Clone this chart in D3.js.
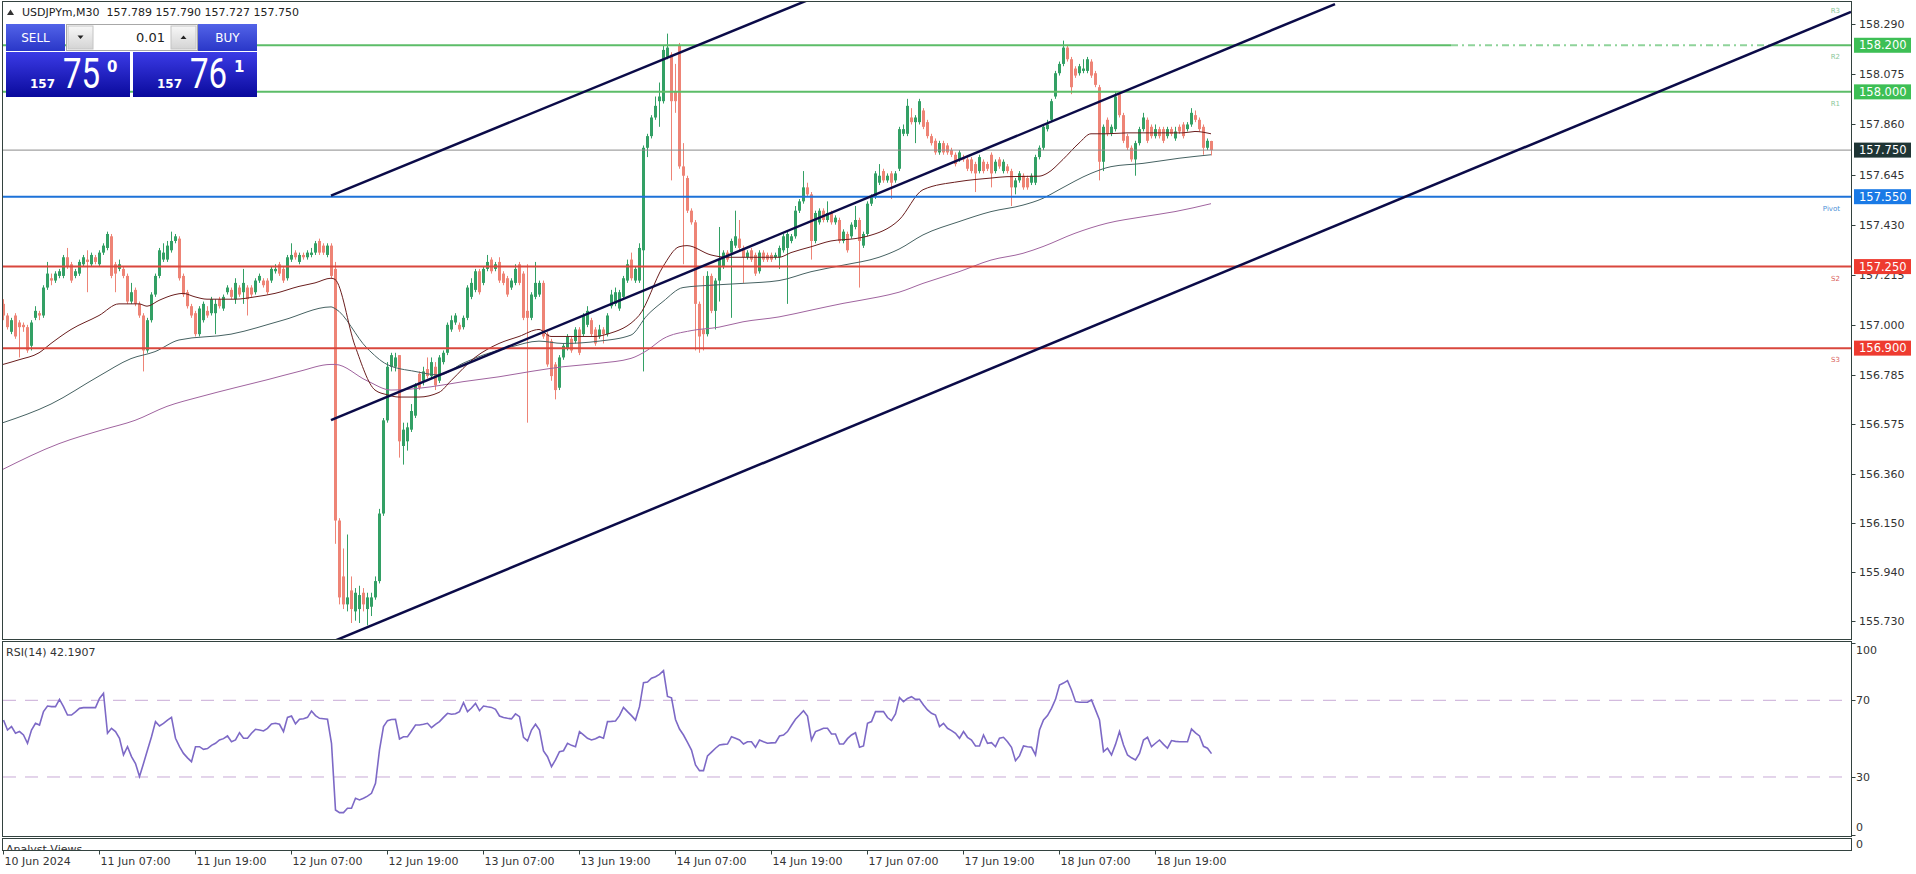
<!DOCTYPE html>
<html><head><meta charset="utf-8">
<script src="https://cdn.jsdelivr.net/npm/d3@7/dist/d3.min.js"></script>
<style>
html,body{margin:0;padding:0;background:#fff;overflow:hidden;}
svg{display:block;font-family:"DejaVu Sans",sans-serif;}
</style></head><body>
<svg id="chart" width="1916" height="874"></svg>
<script>
// ---------------- DATA ----------------
const opens=[
157.09,157.04,156.97,157.04,157.01,157.00,156.99,156.91,157.03,157.05,
157.04,157.16,157.20,157.19,157.21,157.21,157.29,157.26,157.21,157.22,
157.26,157.28,157.26,157.29,157.26,157.31,157.33,157.38,157.26,157.24,
157.24,157.21,157.10,157.15,157.09,157.04,156.89,157.02,157.13,157.21,
157.28,157.28,157.32,157.36,157.37,157.21,157.14,157.08,157.05,156.96,
157.02,157.06,157.05,157.05,157.11,157.07,157.14,157.15,157.11,157.16,
157.14,157.16,157.16,157.14,157.19,157.19,157.19,157.19,157.23,157.26,
157.24,157.20,157.28,157.31,157.27,157.30,157.29,157.30,157.31,157.36,
157.34,157.30,157.34,157.24,156.16,155.92,155.80,155.86,155.77,155.78,
155.85,155.78,155.79,155.83,155.90,156.19,156.59,156.82,156.82,156.87,
156.48,156.50,156.55,156.61,156.79,156.76,156.81,156.78,156.82,156.76,
156.84,156.88,156.98,157.01,157.00,156.99,157.03,157.12,157.15,157.23,
157.18,157.24,157.28,157.24,157.27,157.22,157.20,157.16,157.18,157.26,
157.22,157.06,157.03,157.12,157.13,157.18,156.96,156.93,156.83,156.73,
156.86,156.90,156.94,156.93,156.98,156.96,157.00,157.02,156.98,156.95,
156.98,156.96,157.08,157.09,157.07,157.12,157.19,157.28,157.19,157.19,
157.32,157.76,157.81,157.89,157.96,157.96,158.15,158.16,158.00,158.20,
157.68,157.63,157.49,157.44,157.09,156.98,156.96,157.21,157.06,157.19,
157.25,157.31,157.31,157.34,157.37,157.33,157.29,157.32,157.30,157.23,
157.31,157.30,157.30,157.29,157.29,157.32,157.33,157.36,157.38,157.49,
157.53,157.59,157.56,157.36,157.44,157.49,157.45,157.48,157.44,157.45,
157.36,157.39,157.38,157.42,157.45,157.34,157.39,157.52,157.55,157.61,
157.66,157.62,157.65,157.62,157.67,157.82,157.82,157.89,157.87,157.87,
157.92,157.87,157.81,157.79,157.74,157.78,157.77,157.75,157.73,157.71,
157.72,157.71,157.71,157.69,157.66,157.70,157.69,157.73,157.66,157.71,
157.66,157.68,157.66,157.59,157.62,157.64,157.63,157.61,157.61,157.72,
157.76,157.84,157.88,157.98,158.08,158.12,158.19,158.14,158.10,158.08,
158.09,158.09,158.13,158.08,158.02,157.70,157.88,157.82,157.84,157.99,
157.90,157.81,157.76,157.71,157.78,157.84,157.88,157.85,157.81,157.84,
157.84,157.81,157.84,157.80,157.85,157.86,157.84,157.86,157.90,157.88,
157.85,157.76,157.789];
const highs=[
157.11,157.05,157.03,157.05,157.02,157.01,157.00,157.02,157.08,157.06,
157.17,157.27,157.22,157.23,157.24,157.30,157.33,157.27,157.24,157.28,
157.30,157.32,157.31,157.30,157.32,157.35,157.40,157.39,157.27,157.28,
157.25,157.22,157.18,157.16,157.10,157.05,157.03,157.14,157.22,157.33,
157.35,157.36,157.40,157.39,157.38,157.22,157.15,157.09,157.06,157.08,
157.10,157.08,157.12,157.11,157.12,157.13,157.17,157.16,157.20,157.17,
157.24,157.17,157.17,157.20,157.22,157.20,157.20,157.25,157.26,157.27,
157.25,157.30,157.35,157.32,157.31,157.31,157.32,157.33,157.36,157.37,
157.35,157.35,157.35,157.27,156.17,156.04,156.10,155.92,155.87,155.88,
155.87,155.85,155.85,155.92,156.21,156.60,156.84,156.88,156.88,156.87,
156.58,156.58,156.66,156.75,156.80,156.82,156.86,156.86,156.84,156.87,
156.89,157.01,157.04,157.05,157.01,157.04,157.17,157.20,157.24,157.24,
157.25,157.30,157.29,157.27,157.29,157.23,157.21,157.20,157.26,157.27,
157.23,157.26,157.14,157.27,157.19,157.19,156.97,156.94,156.84,156.87,
156.92,156.96,156.95,156.99,156.99,157.05,157.08,157.03,156.99,157.00,
156.99,157.05,157.15,157.16,157.15,157.21,157.28,157.31,157.25,157.35,
157.77,157.82,157.90,157.98,158.04,158.20,158.25,158.17,158.12,158.21,
157.78,157.64,157.50,157.45,157.10,157.21,157.23,157.22,157.20,157.42,
157.32,157.32,157.37,157.49,157.45,157.34,157.32,157.33,157.31,157.32,
157.32,157.31,157.31,157.31,157.34,157.39,157.40,157.39,157.51,157.54,
157.66,157.61,157.57,157.49,157.50,157.50,157.53,157.49,157.47,157.46,
157.41,157.40,157.44,157.51,157.46,157.40,157.53,157.56,157.66,157.69,
157.67,157.65,157.66,157.66,157.85,157.86,157.97,157.93,157.90,157.97,
157.93,157.88,157.82,157.80,157.79,157.79,157.78,157.76,157.74,157.75,
157.73,157.72,157.72,157.70,157.73,157.71,157.70,157.74,157.71,157.72,
157.71,157.69,157.67,157.63,157.66,157.65,157.64,157.65,157.73,157.77,
157.86,157.88,157.97,158.09,158.13,158.22,158.20,158.15,158.11,158.12,
158.14,158.15,158.14,158.09,158.03,157.86,157.89,157.86,158.00,158.00,
157.91,157.82,157.77,157.79,157.85,157.91,157.89,157.86,157.86,157.85,
157.85,157.85,157.85,157.85,157.86,157.87,157.87,157.93,157.92,157.89,
157.86,157.80,157.790];
const lows=[
157.02,156.98,156.96,156.94,156.86,156.97,156.88,156.89,157.02,157.02,
157.03,157.15,157.17,157.18,157.20,157.20,157.24,157.18,157.20,157.21,
157.25,157.14,157.25,157.26,157.25,157.30,157.32,157.20,157.14,157.23,
157.20,157.09,157.09,157.08,157.03,156.80,156.88,157.01,157.12,157.20,
157.27,157.27,157.31,157.35,157.19,157.12,157.07,157.03,156.95,156.95,
157.01,157.03,157.04,156.96,157.07,157.06,157.13,157.11,157.09,157.12,
157.09,157.04,157.12,157.13,157.18,157.16,157.13,157.18,157.22,157.21,
157.18,157.19,157.27,157.28,157.26,157.28,157.28,157.29,157.30,157.30,
157.30,157.29,157.20,156.06,155.80,155.78,155.77,155.72,155.73,155.72,
155.77,155.71,155.75,155.82,155.89,156.18,156.58,156.80,156.80,156.43,
156.40,156.46,156.54,156.60,156.72,156.74,156.77,156.77,156.72,156.75,
156.83,156.87,156.97,157.00,156.97,156.98,157.02,157.11,157.14,157.13,
157.17,157.23,157.22,157.23,157.18,157.17,157.12,157.15,157.17,157.17,
157.02,156.58,157.02,157.11,157.12,156.94,156.82,156.76,156.68,156.72,
156.85,156.89,156.88,156.92,156.87,156.95,156.99,156.95,156.91,156.94,
156.92,156.95,157.07,157.08,157.06,157.11,157.18,157.19,157.18,157.18,
156.80,157.72,157.80,157.88,157.85,157.95,158.14,157.62,157.91,157.67,
157.26,157.48,157.43,156.89,156.88,156.89,156.95,157.05,156.98,157.10,
157.24,157.27,157.03,157.33,157.32,157.18,157.28,157.27,157.21,157.22,
157.27,157.27,157.27,157.28,157.24,157.31,157.09,157.35,157.37,157.48,
157.52,157.55,157.28,157.35,157.43,157.44,157.44,157.43,157.43,157.35,
157.35,157.31,157.37,157.41,157.16,157.33,157.38,157.51,157.54,157.60,
157.61,157.61,157.54,157.61,157.66,157.81,157.81,157.86,157.78,157.86,
157.84,157.80,157.77,157.73,157.73,157.73,157.73,157.72,157.68,157.70,
157.70,157.66,157.65,157.57,157.65,157.65,157.66,157.59,157.65,157.67,
157.65,157.65,157.51,157.56,157.61,157.58,157.58,157.60,157.60,157.71,
157.75,157.83,157.87,157.97,158.07,158.11,158.13,157.99,158.06,158.07,
158.08,158.08,158.06,158.02,157.62,157.66,157.81,157.81,157.83,157.89,
157.78,157.75,157.70,157.64,157.77,157.83,157.78,157.80,157.80,157.80,
157.78,157.80,157.81,157.79,157.82,157.80,157.83,157.85,157.87,157.83,
157.73,157.75,157.727];
const closes=[
157.04,156.99,157.02,156.95,156.99,156.99,156.89,157.01,157.06,157.04,
157.16,157.22,157.19,157.22,157.23,157.29,157.25,157.19,157.23,157.27,
157.29,157.27,157.30,157.27,157.31,157.34,157.39,157.21,157.22,157.26,
157.21,157.10,157.14,157.09,157.04,156.89,157.02,157.13,157.21,157.32,
157.31,157.34,157.36,157.38,157.20,157.13,157.08,157.04,156.96,157.07,
157.09,157.04,157.11,157.09,157.08,157.12,157.16,157.12,157.18,157.13,
157.18,157.11,157.13,157.19,157.21,157.17,157.14,157.24,157.24,157.22,
157.19,157.29,157.30,157.29,157.30,157.29,157.31,157.31,157.35,157.31,
157.31,157.34,157.21,156.16,155.83,155.80,155.83,155.78,155.85,155.84,
155.80,155.83,155.83,155.90,156.19,156.59,156.82,156.87,156.86,156.50,
156.55,156.56,156.63,156.74,156.73,156.80,156.78,156.84,156.74,156.86,
156.88,157.00,157.02,157.04,156.98,157.03,157.16,157.18,157.23,157.14,
157.24,157.27,157.23,157.26,157.19,157.18,157.13,157.19,157.24,157.18,
157.03,157.03,157.13,157.18,157.18,156.95,156.83,156.78,156.72,156.86,
156.91,156.95,156.89,156.98,156.88,157.04,157.06,156.96,156.92,156.98,
156.96,157.04,157.13,157.14,157.14,157.20,157.26,157.20,157.24,157.33,
157.76,157.81,157.89,157.94,157.98,158.18,158.19,157.96,157.96,157.68,
157.64,157.49,157.44,157.09,156.95,156.96,157.21,157.06,157.19,157.28,
157.31,157.28,157.36,157.38,157.33,157.29,157.31,157.28,157.22,157.31,
157.28,157.28,157.28,157.30,157.33,157.38,157.39,157.38,157.49,157.53,
157.59,157.56,157.36,157.48,157.49,157.45,157.48,157.44,157.46,157.36,
157.40,157.32,157.43,157.45,157.36,157.39,157.52,157.55,157.65,157.64,
157.62,157.64,157.61,157.65,157.84,157.84,157.94,157.87,157.89,157.96,
157.85,157.81,157.78,157.74,157.78,157.74,157.74,157.73,157.69,157.74,
157.71,157.67,157.66,157.65,157.72,157.66,157.67,157.65,157.70,157.68,
157.70,157.66,157.59,157.62,157.65,157.59,157.59,157.64,157.72,157.76,
157.85,157.86,157.96,158.08,158.12,158.19,158.14,158.02,158.07,158.11,
158.10,158.14,158.07,158.03,157.70,157.85,157.82,157.85,157.98,157.90,
157.79,157.76,157.71,157.78,157.84,157.89,157.79,157.81,157.84,157.81,
157.79,157.84,157.82,157.83,157.83,157.81,157.86,157.91,157.88,157.84,
157.76,157.79,157.750];

// moving averages (bar index, value)
const maFastBars=[0,4,9,12,17,24,29,34,36,39,43,45,48,51,58,63,68,74,78,82,83,88,93,96,99,104,109,112,118,124,129,134,137,140,148,151,159,165,169,171,177,181,194,197,202,207,213,216,224,230,239,247,251,259,261,265,269,272,276,281,295,298,302];
const maFastVals=[156.83,156.85,156.88,156.92,156.98,157.04,157.09,157.09,157.08,157.105,157.13,157.135,157.12,157.11,157.11,157.12,157.135,157.165,157.18,157.20,157.195,156.91,156.72,156.70,156.69,156.69,156.71,156.76,156.86,156.92,156.95,156.98,156.95,156.95,156.95,156.96,157.04,157.25,157.335,157.34,157.30,157.29,157.29,157.31,157.335,157.36,157.37,157.38,157.45,157.58,157.615,157.63,157.636,157.638,157.65,157.71,157.78,157.82,157.82,157.824,157.824,157.83,157.82];
const maMidBars=[0,12,24,32,38,44,57,70,82,83,91,96,103,109,115,120,127,134,140,149,157,161,165,170,177,185,194,202,210,219,224,230,239,247,255,260,264,272,277,285,294,302];
const maMidVals=[156.58,156.66,156.78,156.855,156.885,156.935,156.96,157.02,157.077,157.07,156.90,156.83,156.80,156.785,156.835,156.87,156.905,156.93,156.92,156.93,156.956,157.04,157.10,157.16,157.17,157.178,157.19,157.228,157.256,157.29,157.325,157.386,157.443,157.486,157.514,157.543,157.58,157.65,157.679,157.693,157.715,157.73];
const maSlowBars=[0,14,25,33,41,49,58,66,74,82,83,91,97,107,115,124,132,140,149,157,161,165,172,179,185,194,202,210,219,224,230,239,247,255,260,268,276,285,293,302];
const maSlowVals=[156.38,156.49,156.55,156.59,156.65,156.69,156.73,156.764,156.80,156.83,156.83,156.76,156.72,156.734,156.756,156.777,156.80,156.82,156.835,156.856,156.89,156.94,156.975,156.99,157.013,157.034,157.063,157.092,157.12,157.14,157.178,157.228,157.278,157.307,157.336,157.393,157.436,157.464,157.486,157.52];

// RSI(14), one value per bar
const rsiValues=[
59.7,54.5,56.3,52.8,53.7,51.9,47.6,54.5,58.0,57.1,
64.1,67.0,66.7,66.7,70.5,66.7,62.3,62.3,64.0,65.8,
66.2,66.2,66.2,66.2,71.0,73.7,52.8,55.4,53.7,50.2,
41.5,45.8,40.6,37.0,30.2,37.0,44.1,51.0,58.9,56.6,
58.0,59.7,61.1,50.2,45.8,42.3,40.0,38.0,45.8,45.8,
44.4,44.8,46.5,47.6,49.3,50.0,51.4,48.4,49.3,53.1,
50.2,50.2,52.8,54.9,54.5,54.0,55.4,57.7,58.0,57.5,
53.7,61.1,61.8,57.7,60.1,60.4,61.1,64.4,62.0,60.6,
60.4,60.1,47.6,12.8,11.4,11.4,13.7,13.7,18.9,18.0,
18.9,20.0,21.5,26.7,44.1,56.3,59.4,60.0,60.1,49.8,
51.0,51.0,54.0,57.1,57.1,57.5,58.0,55.7,57.5,58.9,
61.1,63.2,62.7,63.0,64.1,68.8,64.1,66.0,68.4,64.6,
67.0,66.6,66.3,65.3,61.8,61.0,60.6,60.3,62.9,61.5,
50.7,48.8,54.5,57.5,54.5,43.6,40.6,35.4,38.9,43.2,
43.7,47.6,46.5,45.8,53.7,52.0,50.2,49.3,50.0,51.0,
50.2,58.9,59.0,59.2,62.0,66.3,64.1,62.0,59.7,66.7,
79.2,79.5,81.5,82.3,83.5,85.5,72.0,71.3,60.0,55.0,
51.9,48.0,44.0,36.3,33.3,33.3,41.0,43.0,45.0,46.7,
47.0,47.2,51.0,50.2,49.3,47.2,48.4,48.4,45.5,49.3,
48.4,47.6,47.8,47.9,51.4,51.9,53.7,57.0,60.1,62.3,
64.6,61.8,49.3,53.7,54.5,55.4,55.4,52.4,52.4,47.2,
47.2,50.0,51.9,53.1,45.5,46.2,58.0,58.9,64.1,64.1,
64.1,61.0,59.4,62.9,71.4,69.3,71.0,71.9,70.5,70.5,
67.6,65.0,63.2,62.3,56.3,58.0,55.4,54.2,52.8,50.2,
53.7,50.7,49.3,46.2,46.2,51.9,47.6,47.9,45.8,50.2,
50.7,48.4,45.5,38.5,41.0,46.2,45.8,45.5,41.5,54.5,
59.7,62.0,65.8,70.5,78.0,79.0,80.3,75.4,69.3,69.0,
69.0,69.0,70.2,65.0,59.7,43.2,45.0,41.5,47.0,53.7,
46.7,41.5,40.0,38.9,42.3,49.3,50.7,45.8,47.6,49.3,
47.0,45.0,49.0,48.6,48.4,48.4,48.4,55.0,53.0,51.4,
46.0,45.0,42.19];
const rsiLevels=[70,30];
const rsiTicks=[100,70,30,0];

const priceTicks=[158.290,158.075,157.860,157.645,157.430,157.215,157.000,156.785,156.575,156.360,156.150,155.940,155.730];
const timeLabels=["10 Jun 2024","11 Jun 07:00","11 Jun 19:00","12 Jun 07:00","12 Jun 19:00","13 Jun 07:00","13 Jun 19:00","14 Jun 07:00","14 Jun 19:00","17 Jun 07:00","17 Jun 19:00","18 Jun 07:00","18 Jun 19:00"];
const timeBars=[0,24,48,72,96,120,144,168,192,216,240,264,288];

// pivot levels and price marks
const pivotNames=["R3","R2","R1","Pivot","S2","S3"];
const pivotPrices=[158.40,158.20,158.00,157.55,157.25,156.90];
const pivotKinds=["r","r","r","p","s","s"];
const markPrices=[158.200,158.000,157.750,157.550,157.250,156.900];
const markKinds=["r","r","bid","p","s","s"];
// dashed stretch of the R2 line (bar range)
const r2DashBars=[362,442];

// channel lines (bar index, price)
const channelTop=[[82,157.555],[250,158.737]];
const channelMid=[[82,156.591],[333,158.377]];
const channelLow=[[20,155.196],[462,158.343]];

const quote={symbol:"USDJPYm,M30",o:"157.789",h:"157.790",l:"157.727",c:"157.750",rsi:"42.1907",lot:"0.01",bid:["157","75","0"],ask:["157","76","1"]};

// ---------------- DRAW ----------------
const svg=d3.select('#chart');
const defs=svg.append('defs');
function grad(id,c1,c2){const g=defs.append('linearGradient').attr('id',id).attr('x1',0).attr('y1',0).attr('x2',0).attr('y2',1);
  g.append('stop').attr('offset','0%').attr('stop-color',c1);g.append('stop').attr('offset','100%').attr('stop-color',c2);}
grad('btnG','#5263e8','#2a37c8');
grad('pxG','#3b3be6','#0a0a9c');
grad('spinG','#f7f7f7','#d4d4d4');
function clip(id,x0,y0,x1,y1){defs.append('clipPath').attr('id',id).append('rect').attr('x',x0).attr('y',y0).attr('width',x1-x0).attr('height',y1-y0);}
const L=3,R=1851.5,MT=2,MB=639,RT=642,RB=836,ST=838.5,SB=850.5;
clip('cMain',L,MT,R,MB);clip('cRsi',L,RT,R,RB);clip('cStrip',L,ST,R,SB);

svg.append('rect').attr('width',1916).attr('height',874).attr('fill','#fff');

const x=d3.scaleLinear().domain([0,462]).range([3,1851]);
const y=d3.scaleLinear().domain([155.730,158.290]).range([620.7,24.3]);
const yR=d3.scaleLinear().domain([0,100]).range([834.5,642.8]);

const BULL='#33a065',BEAR='#ee8476';
const kindColor={r:'#5cbd68',p:'#1d72d8',s:'#d9473d',bid:'#8a8a8a'};
const boxColor={r:'#3dbf55',p:'#1a7ae6',s:'#ee3b30',bid:'#1f3535'};
const labelColor={r:'#8cc79a',p:'#4d8fd6',s:'#d9625a'};

const gMain=svg.append('g').attr('clip-path','url(#cMain)');

// candles
const candles=d3.range(closes.length).map(i=>({i,o:opens[i],h:highs[i],l:lows[i],c:closes[i]}));
const gC=gMain.append('g');
gC.selectAll('line.w').data(candles).join('line').attr('class','w')
  .attr('x1',d=>Math.round(x(d.i))+0.5).attr('x2',d=>Math.round(x(d.i))+0.5)
  .attr('y1',d=>y(d.h)).attr('y2',d=>y(d.l))
  .attr('stroke',d=>d.c>=d.o?BULL:BEAR).attr('stroke-width',1);
gC.selectAll('rect.b').data(candles).join('rect').attr('class','b')
  .attr('x',d=>Math.round(x(d.i))-1).attr('width',3)
  .attr('y',d=>Math.min(y(d.o),y(d.c))).attr('height',d=>Math.max(1,Math.abs(y(d.o)-y(d.c))))
  .attr('fill',d=>d.c>=d.o?BULL:BEAR);

// moving averages
const maLine=d3.line().x(d=>x(d[0])).y(d=>y(d[1])).curve(d3.curveMonotoneX);
[[maSlowBars,maSlowVals,'#a0649f'],[maMidBars,maMidVals,'#466262'],[maFastBars,maFastVals,'#6a1e1e']].forEach(([b,v,c])=>{
  gMain.append('path').attr('d',maLine(b.map((bb,k)=>[bb,v[k]]))).attr('fill','none').attr('stroke',c).attr('stroke-width',1);
});

// horizontal price marks
markPrices.forEach((p,k)=>{
  const kind=markKinds[k];
  const yy=y(p);
  if(k===0){
    const a=x(r2DashBars[0]),b=x(r2DashBars[1]);
    gMain.append('line').attr('x1',L).attr('x2',a).attr('y1',yy).attr('y2',yy).attr('stroke',kindColor[kind]).attr('stroke-width',2);
    gMain.append('line').attr('x1',a).attr('x2',b).attr('y1',yy).attr('y2',yy).attr('stroke','#8fd39a').attr('stroke-width',2).attr('stroke-dasharray','7,4,2,4');
    gMain.append('line').attr('x1',b).attr('x2',R).attr('y1',yy).attr('y2',yy).attr('stroke',kindColor[kind]).attr('stroke-width',2);
  } else {
    gMain.append('line').attr('x1',L).attr('x2',R).attr('y1',yy).attr('y2',yy)
      .attr('stroke',kindColor[kind]).attr('stroke-width',kind==='bid'?1:2);
  }
});
// pivot names
pivotNames.forEach((n,k)=>{
  gMain.append('text').attr('x',1840).attr('y',y(pivotPrices[k])+14).attr('text-anchor','end')
    .attr('font-size',7).attr('fill',labelColor[pivotKinds[k]]).text(n);
});

// channel
const tl=d3.line().x(d=>x(d[0])).y(d=>y(d[1]));
[channelTop,channelMid,channelLow].forEach(c=>{
  gMain.append('path').attr('d',tl(c)).attr('stroke','#0b0b48').attr('stroke-width',2.5).attr('fill','none');
});

// RSI panel
const gR=svg.append('g').attr('clip-path','url(#cRsi)');
rsiLevels.forEach(v=>{
  gR.append('line').attr('x1',L).attr('x2',R).attr('y1',yR(v)).attr('y2',yR(v))
    .attr('stroke','#c8aad6').attr('stroke-width',1).attr('stroke-dasharray','13,9');
});
const rl=d3.line().x((d,i)=>x(i)+0.5).y(d=>yR(d));
gR.append('path').attr('d',rl(rsiValues)).attr('fill','none').attr('stroke','#7d69c6').attr('stroke-width',1.6);
svg.append('text').attr('x',6).attr('y',656).attr('font-size',11).attr('fill','#333').text(`RSI(14) ${quote.rsi}`);

// strip
const gS=svg.append('g').attr('clip-path','url(#cStrip)');
gS.append('text').attr('x',6).attr('y',853).attr('font-size',11).attr('fill','#333').text('Analyst Views');

// frames
const fr='#33423f';
[[L-0.5,1.5,R,MB+0.5],[L-0.5,RT-0.5,R,RB+0.5],[L-0.5,ST,R,SB]].forEach(([a,b,c,d])=>{
  svg.append('rect').attr('x',a).attr('y',b).attr('width',c-a).attr('height',d-b).attr('fill','none').attr('stroke',fr).attr('stroke-width',1);
});

// price axis
const fmt=d3.format('.3f');
const gA=svg.append('g').attr('font-size',11).attr('fill','#333');
priceTicks.forEach(p=>{
  gA.append('line').attr('x1',R).attr('x2',R+4).attr('y1',Math.round(y(p))+0.5).attr('y2',Math.round(y(p))+0.5).attr('stroke',fr);
  // tick label that sits under a marked-price box is only partly visible
  const hidden=markPrices.some(m=>Math.abs(y(m)-y(p))<10);
  if(hidden){
    const id='cl'+Math.round(y(p));
    const yb=markPrices.map(m=>y(m)).find(v=>Math.abs(v-y(p))<10)+7.5;
    clip(id,1852,yb,1916,y(p)+9);
    gA.append('text').attr('x',1859).attr('y',y(p)).attr('dy','0.36em').attr('clip-path',`url(#${id})`).text(fmt(p));
  } else {
    gA.append('text').attr('x',1859).attr('y',y(p)).attr('dy','0.36em').text(fmt(p));
  }
});
markPrices.forEach((p,k)=>{
  const kind=markKinds[k];
  svg.append('rect').attr('x',1854).attr('y',y(p)-7.5).attr('width',57).attr('height',15).attr('fill',boxColor[kind]);
  svg.append('text').attr('x',1859).attr('y',y(p)).attr('dy','0.36em').attr('font-size',11.5).attr('fill','#fff').text(fmt(p));
});
// rsi axis
rsiTicks.forEach(v=>{
  const yy=Math.max(RT+8,Math.min(RB-9,yR(v)));
  svg.append('line').attr('x1',R).attr('x2',R+4).attr('y1',Math.round(yR(v))+0.5).attr('y2',Math.round(yR(v))+0.5).attr('stroke',fr);
  svg.append('text').attr('x',1856).attr('y',yy).attr('dy','0.36em').attr('font-size',11).attr('fill','#333').text(v);
});
svg.append('text').attr('x',1856).attr('y',844).attr('dy','0.36em').attr('font-size',11).attr('fill','#333').text('0');

// time axis
timeLabels.forEach((t,k)=>{
  const xx=Math.round(x(timeBars[k]))+0.5;
  svg.append('line').attr('x1',xx).attr('x2',xx).attr('y1',SB).attr('y2',SB+4).attr('stroke',fr);
  svg.append('text').attr('x',xx+1).attr('y',865).attr('font-size',11).attr('fill','#333').text(t);
});

// header
svg.append('path').attr('d','M7,15 L10.5,9.5 L14,15 Z').attr('fill','#333');
svg.append('text').attr('x',22).attr('y',16).attr('font-size',11).attr('fill','#222').style('white-space','pre')
  .text(`${quote.symbol}  ${quote.o} ${quote.h} ${quote.l} ${quote.c}`);

// trade panel
const tp=svg.append('g');
tp.append('rect').attr('x',6).attr('y',24).attr('width',59).attr('height',27).attr('fill','url(#btnG)');
tp.append('text').attr('x',35.5).attr('y',42).attr('text-anchor','middle').attr('font-size',12).attr('fill','#fff').text('SELL');
tp.append('rect').attr('x',198).attr('y',24).attr('width',59).attr('height',27).attr('fill','url(#btnG)');
tp.append('text').attr('x',227.5).attr('y',42).attr('text-anchor','middle').attr('font-size',12).attr('fill','#fff').text('BUY');
tp.append('rect').attr('x',66.5).attr('y',24.5).attr('width',131).attr('height',26).attr('fill','#fff').attr('stroke','#a8a8a8');
tp.append('rect').attr('x',68).attr('y',26).attr('width',25).attr('height',23).attr('fill','url(#spinG)').attr('stroke','#c4c4c4');
tp.append('rect').attr('x',171).attr('y',26).attr('width',25).attr('height',23).attr('fill','url(#spinG)').attr('stroke','#c4c4c4');
tp.append('path').attr('d','M77.5,35.5 L83.5,35.5 L80.5,39 Z').attr('fill','#222');
tp.append('path').attr('d','M180.5,39 L186.5,39 L183.5,35.5 Z').attr('fill','#222');
tp.append('text').attr('x',165).attr('y',42).attr('text-anchor','end').attr('font-size',13).attr('fill','#222').text(quote.lot);
[[6,quote.bid],[133,quote.ask]].forEach(([x0,parts])=>{
  tp.append('rect').attr('x',x0).attr('y',52).attr('width',124).attr('height',45).attr('fill','url(#pxG)');
  tp.append('text').attr('x',x0+24).attr('y',88).attr('font-size',12).attr('font-weight','bold').attr('fill','#fff').text(parts[0]);
  tp.append('g').attr('transform',`translate(${x0+57},88) scale(1,1.28)`)
    .append('text').attr('x',0).attr('y',0).attr('font-size',33).attr('font-family','Roboto, sans-serif').attr('fill','#fff').text(parts[1]);
  tp.append('text').attr('x',x0+101).attr('y',72).attr('font-size',15).attr('font-weight','bold').attr('fill','#fff').text(parts[2]);
});
</script>
</body></html>
